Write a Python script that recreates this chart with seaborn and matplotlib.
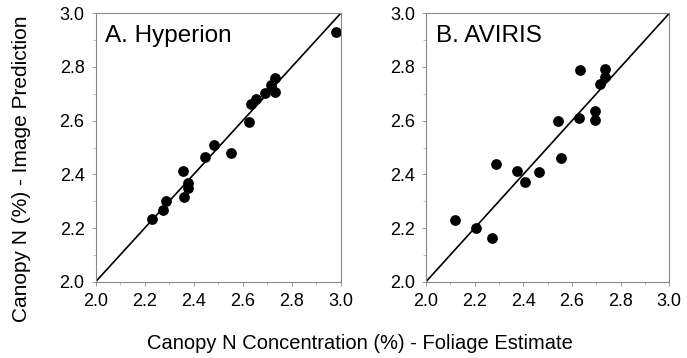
import numpy as np
import pandas as pd
import matplotlib.pyplot as plt
import seaborn as sns
from matplotlib.ticker import MultipleLocator

# Panel A - Hyperion
hyp_foliage = [2.229, 2.273, 2.289, 2.357, 2.362, 2.378, 2.378, 2.446, 2.484,
               2.554, 2.625, 2.632, 2.653, 2.692, 2.715, 2.730, 2.733, 2.982]
hyp_image = [2.232, 2.266, 2.301, 2.413, 2.316, 2.366, 2.351, 2.464, 2.508,
             2.479, 2.595, 2.663, 2.682, 2.702, 2.732, 2.758, 2.705, 2.931]

# Panel B - AVIRIS
av_foliage = [2.118, 2.206, 2.271, 2.287, 2.376, 2.407, 2.464, 2.544, 2.555,
              2.633, 2.629, 2.694, 2.695, 2.716, 2.734, 2.734]
av_image = [2.231, 2.200, 2.164, 2.437, 2.412, 2.373, 2.410, 2.599, 2.460,
            2.787, 2.610, 2.635, 2.604, 2.737, 2.794, 2.761]

panel_titles = ["A. Hyperion", "B. AVIRIS"]
tick_values = [2.0, 2.2, 2.4, 2.6, 2.8, 3.0]

sns.set_style("white")
plt.rcParams['font.family'] = ['Liberation Sans', 'DejaVu Sans']
plt.rcParams['text.color'] = 'black'

fig = plt.figure(figsize=(6.87, 3.58), dpi=100)
ax_a = fig.add_axes([0.1393, 0.2131, 0.3566, 0.7497])
ax_b = fig.add_axes([0.6201, 0.2131, 0.3541, 0.7497])

datasets = [
    pd.DataFrame({"foliage": hyp_foliage, "image": hyp_image}),
    pd.DataFrame({"foliage": av_foliage, "image": av_image}),
]

for ax, df, title in zip([ax_a, ax_b], datasets, panel_titles):
    # 1:1 line
    ax.plot([2.0, 3.0], [2.0, 3.0], color="black", lw=1.2, zorder=1)
    sns.scatterplot(data=df, x="foliage", y="image", ax=ax, color="black",
                    s=60, edgecolor="black", linewidth=0, zorder=2)
    ax.set_xlim(2.0, 3.0)
    ax.set_ylim(2.0, 3.0)
    ax.set_xticks(tick_values)
    ax.set_yticks(tick_values)
    ax.set_xticklabels([f"{v:.1f}" for v in tick_values])
    ax.set_yticklabels([f"{v:.1f}" for v in tick_values])
    ax.xaxis.set_minor_locator(MultipleLocator(0.1))
    ax.yaxis.set_minor_locator(MultipleLocator(0.1))
    ax.tick_params(which="major", direction="out", length=3, width=0.6,
                   color="#888888", labelcolor="black", labelsize=13, pad=5,
                   bottom=True, left=True)
    ax.tick_params(which="minor", direction="out", length=2, width=0.5,
                   color="#aaaaaa", bottom=True, left=True)
    for sp in ax.spines.values():
        sp.set_color("#888888")
        sp.set_linewidth(0.8)
    ax.set_xlabel("")
    ax.set_ylabel("")
    ax.text(0.04, 0.955, title, transform=ax.transAxes, fontsize=17.5,
            ha="left", va="top", color="black")

fig.text(0.524, 0.04, "Canopy N Concentration (%) - Foliage Estimate",
         ha="center", va="center", fontsize=14.5, color="black")
fig.text(0.032, 0.53, "Canopy N (%) - Image Prediction", rotation=90,
         ha="center", va="center", fontsize=15, color="black")

fig.savefig("out.png", dpi=100)
